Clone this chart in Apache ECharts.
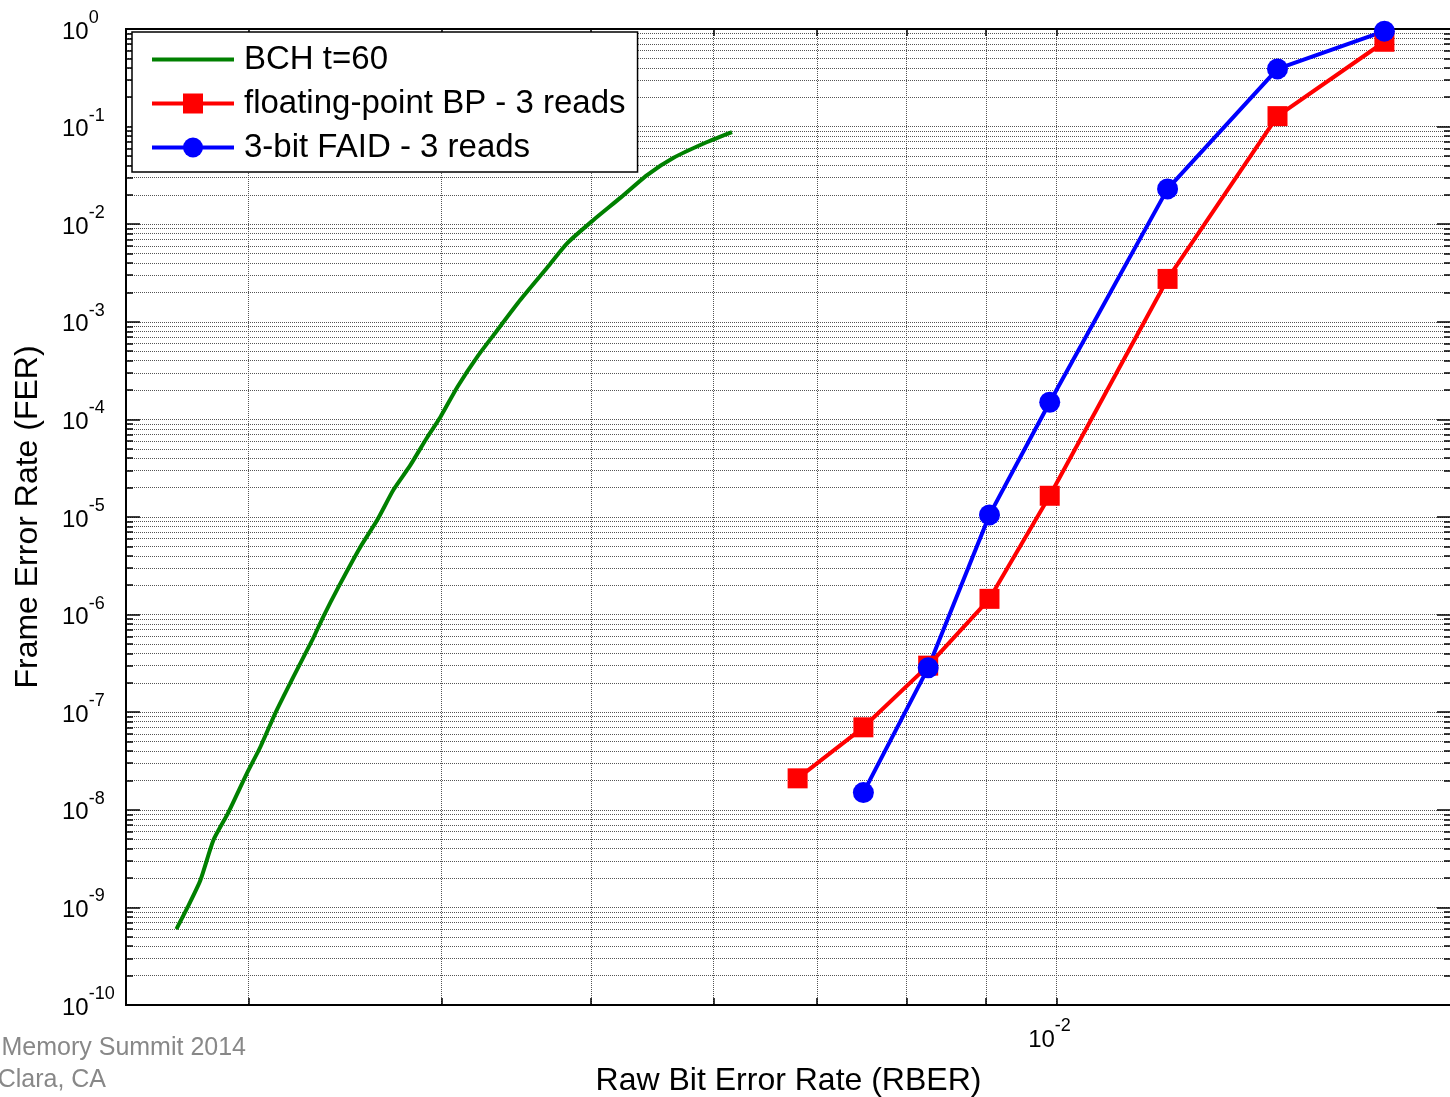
<!DOCTYPE html>
<html>
<head>
<meta charset="utf-8">
<script src="https://cdn.jsdelivr.net/npm/echarts@6/dist/echarts.min.js"></script>
<style>
  html, body { margin: 0; padding: 0; background: #fff; }
  #chart { width: 1450px; height: 1097px; }
</style>
</head>
<body>
<div id="chart"></div>
<script>
// BCH t=60 curve
const bchRber = [0.002695, 0.00274, 0.002793, 0.002848, 0.002911, 0.002995, 0.003054, 0.003123,
    0.003208, 0.0033, 0.003354, 0.00343, 0.003544, 0.003635, 0.003724, 0.003819, 0.003917,
    0.003994, 0.004096, 0.00422, 0.004347, 0.004498, 0.004683, 0.004825, 0.005015, 0.005221,
    0.005434, 0.005649, 0.005942, 0.006167];
const bchFer = [6.0e-10, 1.0e-9, 1.9e-9, 4.9e-9, 9.3e-9, 2.4e-8, 4.4e-8, 9.8e-8,
    2.3e-7, 5.5e-7, 9.5e-7, 1.9e-6, 4.9e-6, 9.3e-6, 1.9e-5, 3.4e-5, 6.6e-5,
    1.06e-4, 2.15e-4, 4.4e-4, 8.2e-4, 1.67e-3, 3.6e-3, 6.4e-3, 0.011, 0.0186,
    0.0319, 0.0477, 0.0695, 0.088];

// floating-point BP - 3 reads
const bpRber = [0.0068, 0.0075, 0.00826, 0.00905, 0.0099, 0.0118, 0.0139, 0.0163];
const bpFer = [2.1e-8, 7.0e-8, 3.0e-7, 1.45e-6, 1.65e-5, 2.75e-3, 0.128, 0.74];

// 3-bit FAID - 3 reads
const faidRber = [0.0075, 0.00826, 0.00905, 0.0099, 0.0118, 0.0139, 0.0163];
const faidFer = [1.5e-8, 2.85e-7, 1.05e-5, 1.5e-4, 0.023, 0.39, 0.95];

const seriesNames = ['BCH t=60', 'floating-point BP - 3 reads', '3-bit FAID - 3 reads'];

// axis ticks
const xTicks = [0.003, 0.004, 0.005, 0.006, 0.007, 0.008, 0.009, 0.01];
const xLabels = [0.01];
const yLabels = [1e-10, 1e-9, 1e-8, 1e-7, 1e-6, 1e-5, 1e-4, 1e-3, 1e-2, 1e-1, 1];
const yTicks = [];
yLabels.forEach((d, i) => {
    yTicks.push(d);
    if (i < yLabels.length - 1) {
        for (let m = 2; m <= 9; m++) yTicks.push(+(m * d).toPrecision(3));
    }
});

const FONT = 'Liberation Sans, Arial, sans-serif';

function zip(xs, ys) {
    return xs.map((x, i) => [x, ys[i]]);
}

function powLabel(v) {
    const e = Math.round(Math.log10(v));
    return '{b|10}{e|' + e + '}';
}

const labelRich = {
    b: { fontSize: 24, fontFamily: FONT, color: '#000' },
    e: { fontSize: 18, fontFamily: FONT, color: '#000', padding: [0, 0, 28, 0] }
};

const gridLine = { show: true, lineStyle: { color: '#555', type: 'dotted', width: 1 } };
const axisLine = { show: true, lineStyle: { color: '#000', width: 2 } };

// ticks along the frame; the longer ones mark the decades
function tickAxis(position, min, max, values, len) {
    return {
        type: 'log',
        position: position,
        min: min,
        max: max,
        axisLine: axisLine,
        axisTick: { show: true, inside: true, length: len, customValues: values, lineStyle: { color: '#000', width: 1.5 } },
        splitLine: { show: false },
        axisLabel: { show: false }
    };
}

const chart = echarts.init(document.getElementById('chart'));

chart.setOption({
    animation: false,
    backgroundColor: '#fff',
    grid: { left: 126, top: 29, width: 1325, height: 976, outerBoundsMode: 'none', containLabel: false },
    legend: {
        orient: 'vertical',
        left: 132,
        top: 32,
        data: [
            { name: seriesNames[0], itemStyle: { opacity: 0 } },
            seriesNames[1],
            seriesNames[2]
        ],
        itemWidth: 82,
        itemHeight: 25,
        itemGap: 11,
        padding: [11, 12, 8, 18],
        backgroundColor: '#fff',
        borderColor: '#000',
        borderWidth: 1.5,
        lineStyle: { width: 'inherit' },
        textStyle: { fontSize: 33, fontFamily: FONT, color: '#000', padding: [0, 0, 0, 5] }
    },
    xAxis: [
        {
            type: 'log',
            position: 'bottom',
            min: 0.0025,
            max: 0.018,
            axisLine: axisLine,
            axisTick: { show: true, inside: true, length: 7, customValues: xTicks, lineStyle: { color: '#000', width: 1.5 } },
            splitLine: gridLine,
            axisLabel: {
                customValues: xLabels,
                formatter: powLabel,
                rich: labelRich,
                margin: 12,
                padding: [0, 14, 0, 0]
            },
            name: 'Raw Bit Error Rate (RBER)',
            nameLocation: 'middle',
            nameGap: 60,
            nameTextStyle: { fontSize: 32, fontFamily: FONT, color: '#000' }
        },
        tickAxis('top', 0.0025, 0.018, xTicks, 7)
    ],
    yAxis: [
        {
            type: 'log',
            position: 'left',
            min: 1e-10,
            max: 1,
            axisLine: axisLine,
            axisTick: { show: true, inside: true, length: 7, customValues: yTicks, lineStyle: { color: '#000', width: 1.5 } },
            splitLine: gridLine,
            axisLabel: {
                customValues: yLabels,
                formatter: powLabel,
                rich: labelRich,
                align: 'left',
                margin: 64,
                padding: [6, 0, 0, 0]
            },
            name: 'Frame Error Rate (FER)',
            nameLocation: 'middle',
            nameGap: 82,
            nameTextStyle: { fontSize: 32, fontFamily: FONT, color: '#000' }
        },
        tickAxis('right', 1e-10, 1, yTicks, 7),
        tickAxis('left', 1e-10, 1, yLabels, 14),
        tickAxis('right', 1e-10, 1, yLabels, 14)
    ],
    series: [
        {
            name: seriesNames[0],
            type: 'line',
            data: zip(bchRber, bchFer),
            symbol: 'none',
            smooth: 0.2,
            lineStyle: { color: '#008000', width: 4 },
            itemStyle: { color: '#008000' }
        },
        {
            name: seriesNames[1],
            type: 'line',
            data: zip(bpRber, bpFer),
            symbol: 'rect',
            symbolSize: 20,
            lineStyle: { color: '#ff0000', width: 4 },
            itemStyle: { color: '#ff0000' }
        },
        {
            name: seriesNames[2],
            type: 'line',
            data: zip(faidRber, faidFer),
            symbol: 'circle',
            symbolSize: 21,
            lineStyle: { color: '#0000ff', width: 4 },
            itemStyle: { color: '#0000ff' }
        }
    ],
    graphic: [
        {
            type: 'text',
            style: {
                text: 'Flash Memory Summit 2014',
                x: 246, y: 1048,
                align: 'right', verticalAlign: 'middle',
                fill: '#888', font: '25px ' + FONT
            }
        },
        {
            type: 'text',
            style: {
                text: 'Santa Clara, CA',
                x: 106, y: 1080,
                align: 'right', verticalAlign: 'middle',
                fill: '#888', font: '25px ' + FONT
            }
        }
    ]
});
</script>
</body>
</html>
